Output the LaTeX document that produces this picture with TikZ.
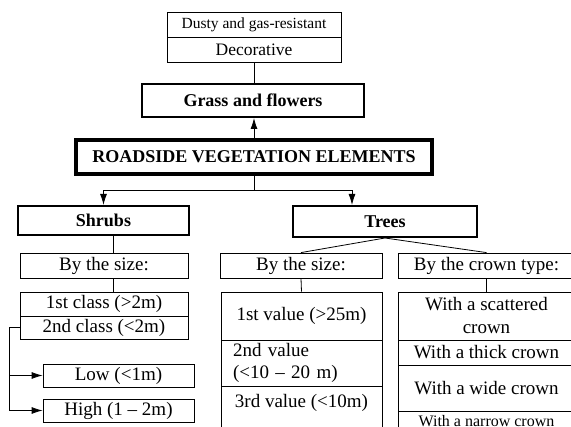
\documentclass[tikz,border=0pt]{standalone}
\usepackage{fontspec}
\setmainfont{Liberation Serif}
\usetikzlibrary{arrows.meta,positioning,calc}

\begin{document}
\begin{tikzpicture}[x=1pt,y=-1pt,line width=0.8pt,
    cell/.style={draw,line width=0.8pt,inner sep=0pt,align=center,font=\fontsize{19}{23}\selectfont},
    head/.style={draw,line width=2pt,inner sep=0pt,font=\bfseries\fontsize{18}{20}\selectfont},
    arrow/.style={-{Latex[length=11pt,width=7pt]}}]
    \useasboundingbox (0,0) rectangle (571,427);
    \clip (0,0) rectangle (571,427);
    % top group
    \node[cell,minimum width=174,minimum height=25,font=\fontsize{15.5}{17}\selectfont] (dusty) at (254,24.5) {Dusty and gas-resistant};
    \node[cell,minimum width=174,minimum height=25,font=\fontsize{17.5}{19}\selectfont] (deco) at (254,49.5) {Decorative};
    \node[head,minimum width=222,minimum height=33] (grass) at (253,100.5) {Grass and flowers};
    \node[head,line width=3.5pt,minimum width=356,minimum height=34] (road) at (254,157) {ROADSIDE VEGETATION ELEMENTS};
    \node[head,minimum width=171,minimum height=29] (shrubs) at (103.5,220.5) {Shrubs};
    \node[head,minimum width=184,minimum height=31] (trees) at (385,221.5) {Trees};
    % shrubs
    \node[cell,minimum width=168,minimum height=25] (ssize) at (104,265.5) {By the size:};
    \node[cell,minimum width=168,minimum height=24] (c1) at (104,304) {1st class (>2m)};
    \node[cell,minimum width=168,minimum height=23] (c2) at (104,327.5) {2nd class (<2m)};
    \node[cell,minimum width=151,minimum height=23] (low) at (118.5,375.5) {Low (<1m)};
    \node[cell,minimum width=151,minimum height=23] (high) at (118.5,410.5) {High (1 -- 2m)};
    % trees, size
    \node[cell,minimum width=162,minimum height=25] (tsize) at (301,265.5) {By the size:};
    \node[cell,minimum width=161,minimum height=48] (v1) at (301.5,316) {1st value (>25m)};
    \node[cell,minimum width=161,minimum height=46,align=left,text width=137pt,font=\fontsize{19}{22}\selectfont] (v2) at (301.5,363) {2nd value\\(<10 -- 20 m)};
    \node[cell,minimum width=161,minimum height=50,anchor=north,text depth=20pt] (v3) at (301.5,386) {3rd value (<10m)};
    % trees, crown
    \node[cell,minimum width=177,minimum height=25] (tcrown) at (486.5,265.5) {By the crown type:};
    \node[cell,minimum width=177,minimum height=48] (k1) at (486.5,316) {With a scattered\\crown};
    \node[cell,minimum width=177,minimum height=25] (k2) at (486.5,352.5) {With a thick crown};
    \node[cell,minimum width=177,minimum height=46] (k3) at (486.5,388) {With a wide crown};
    \node[cell,minimum width=177,minimum height=20,anchor=north,font=\fontsize{16}{18}\selectfont] (k4) at (486.5,411) {With a narrow crown};
    % connectors
    \draw (deco.south) -- (deco.south |- grass.north);
    \draw[arrow] (road.north) -- (road.north |- grass.south);
    \coordinate (split) at (254,190);
    \draw (road.south) -- (split);
    \draw[arrow] (split) -| (shrubs.north);
    \draw[arrow] (split) -| ([xshift=60pt]trees.north west);
    \draw ([xshift=9.5pt]shrubs.south) -- ([xshift=9pt]ssize.north);
    \draw ([xshift=9pt]ssize.south) -- ([xshift=9pt]c1.north);
    \coordinate[left=10pt of c2.west] (bend);
    \draw (c2.west) -- (bend);
    \draw[arrow] (bend) |- (low.west);
    \draw[arrow] (bend) |- (high.west);
    \draw (trees.south) -- (tsize.north);
    \draw (trees.south) -- (tcrown.north);
    \draw (tsize.south) -- (v1.north);
    \draw (tcrown.south) -- (k1.north);
\end{tikzpicture}
\end{document}
